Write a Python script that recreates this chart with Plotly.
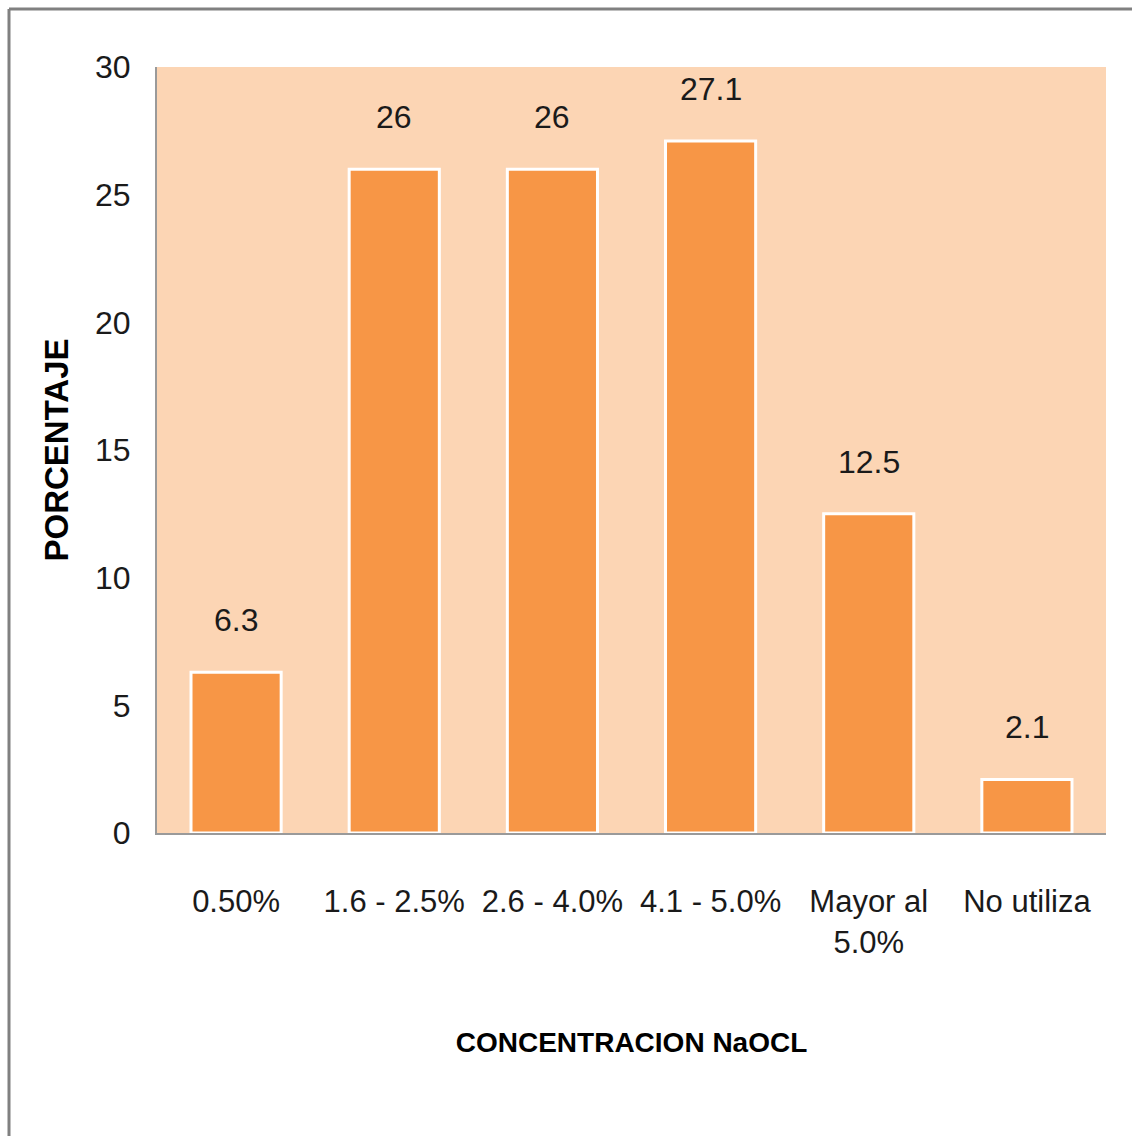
import plotly.graph_objects as go

categories = ["0.50%", "1.6 - 2.5%", "2.6 - 4.0%", "4.1 - 5.0%", "Mayor al<br>5.0%", "No utiliza"]
values = [6.3, 26, 26, 27.1, 12.5, 2.1]
value_labels = ["6.3", "26", "26", "27.1", "12.5", "2.1"]
y_ticks = [0, 5, 10, 15, 20, 25, 30]

FONT = "Liberation Sans, Arial, sans-serif"
TXT = "#1a1a1a"

W, H = 1132, 1136
L, R, T, B = 157, 26, 67, 303
pw, ph = W - L - R, H - T - B

fig = go.Figure(go.Bar(
    x=categories, y=values,
    marker=dict(color="#F79646", line=dict(color="white", width=3)),
    width=0.57,
))

for c, v, s in zip(categories, values, value_labels):
    fig.add_annotation(x=c, y=v, text=s, showarrow=False, yanchor="bottom",
                       yshift=32, font=dict(family=FONT, size=32, color=TXT))

fig.update_layout(
    width=W, height=H,
    margin=dict(l=L, r=R, t=T, b=B, autoexpand=False),
    paper_bgcolor="white", plot_bgcolor="#FCD5B4",
    showlegend=False,
    xaxis=dict(
        showline=True, linecolor="#9a9a9a", linewidth=2,
        tickangle=0,
        tickfont=dict(family=FONT, size=31, color=TXT),
        ticks="outside", ticklen=40, tickcolor="rgba(0,0,0,0)",
        title=dict(text="<b>CONCENTRACION NaOCL</b>", standoff=74,
                   font=dict(family=FONT, size=28, color="#000")),
    ),
    yaxis=dict(
        range=[0, 30], tickvals=y_ticks, showgrid=False, zeroline=False,
        showline=True, linecolor="#9a9a9a", linewidth=2,
        tickfont=dict(family=FONT, size=32, color=TXT),
        ticks="outside", ticklen=18, tickcolor="rgba(0,0,0,0)",
        title=dict(text="<b>PORCENTAJE</b>", standoff=16,
                   font=dict(family=FONT, size=33, color="#000")),
    ),
    shapes=[
        dict(type="line", xref="paper", yref="paper",
             x0=(9 - L) / pw, x1=(9 - L) / pw, y0=1 + (T - 9) / ph, y1=-B / ph,
             line=dict(color="#808080", width=3)),
        dict(type="line", xref="paper", yref="paper",
             x0=(9 - L) / pw, x1=(W - L) / pw, y0=1 + (T - 9) / ph, y1=1 + (T - 9) / ph,
             line=dict(color="#808080", width=3)),
    ],
)

fig.write_html("out.html")
